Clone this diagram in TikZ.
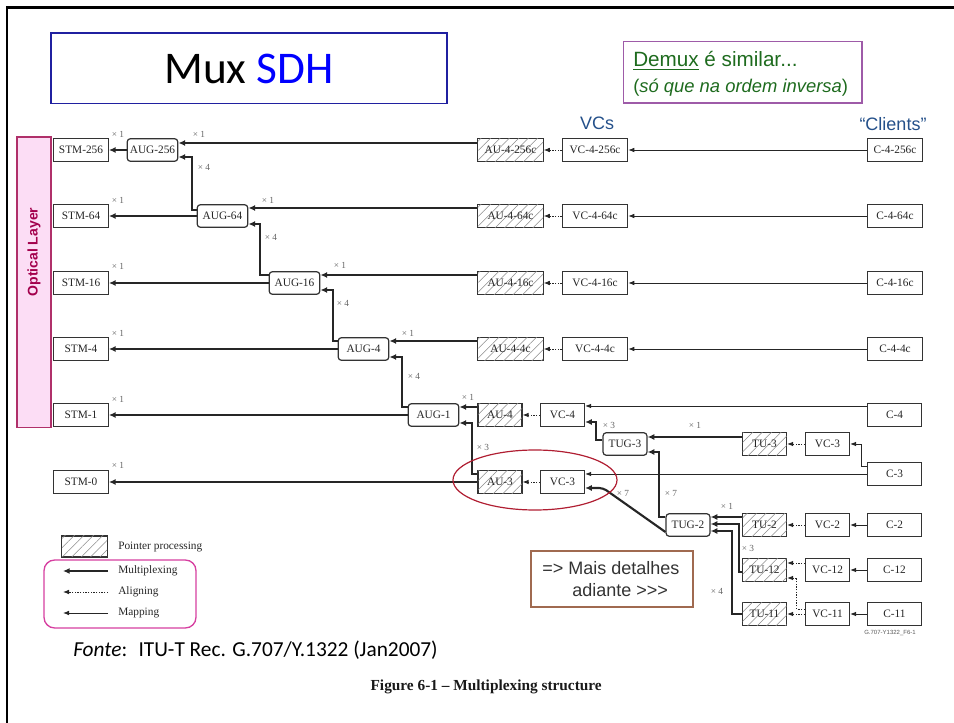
\documentclass[tikz,border=0pt]{standalone}
\usepackage{fontspec}
\setmainfont{Liberation Serif}
\newfontfamily\arialf{Liberation Sans}
\newfontfamily\calibrif{Carlito}
\usetikzlibrary{arrows.meta,patterns.meta,calc,shapes.geometric}
\definecolor{boxgray}{HTML}{333333}
\definecolor{sdhblue}{HTML}{0000FF}
\definecolor{titleframe}{HTML}{2020A0}
\definecolor{demuxgreen}{HTML}{1E6B1E}
\definecolor{demuxframe}{HTML}{9E5BA8}
\definecolor{vcblue}{HTML}{24508A}
\definecolor{optfill}{HTML}{FCDDF5}
\definecolor{optframe}{HTML}{B0306A}
\definecolor{opttext}{HTML}{A3004C}
\definecolor{ellred}{HTML}{B01E32}
\definecolor{legframe}{HTML}{D63FA0}
\definecolor{maisframe}{HTML}{A06A50}
\begin{document}
\begin{tikzpicture}[x=0.75pt,y=-0.75pt,
  dbox/.style={draw=boxgray,line width=0.9pt,fill=white,inner sep=0pt,minimum height=17pt,
    font=\fontsize{8.5}{9}\selectfont,text=black!85},
  stm/.style={dbox,minimum width=41pt},
  augbox/.style={dbox,minimum width=38pt,rounded corners=2.5pt},
  tugbox/.style={dbox,minimum width=33pt,rounded corners=2.5pt},
  wide/.style={dbox,minimum width=49pt},
  small/.style={dbox,minimum width=33pt},
  cbox/.style={dbox,minimum width=41pt},
  hatch/.style={postaction={pattern={Lines[angle=45,distance=5pt,line width=0.4pt]},pattern color=black!45}},
  mux/.style={draw=black!85,line width=1.6pt,-{Latex[length=5pt,width=4.5pt]}},
  mapl/.style={draw=black!85,line width=0.7pt,-{Latex[length=4.5pt,width=3.5pt]}},
  alig/.style={draw=black!85,line width=0.7pt,dash pattern=on 1pt off 1pt,-{Latex[length=4.5pt,width=3.5pt]}},
  mult/.style={font=\fontsize{7}{8}\selectfont,text=black!60,inner sep=0pt},
  demuxtxt/.style={anchor=base west,text=demuxgreen,inner sep=0pt}]
\useasboundingbox (0,0) rectangle (954,723);
% slide frame
\draw[line width=1.8pt] (7,723) -- (7,7.5) -- (954,7.5);
% title
\node[draw=titleframe,line width=1pt,minimum width=297pt,minimum height=53pt] (title) at (249,68.5)
  {\calibrif\fontsize{34}{36}\selectfont Mux \textcolor{sdhblue}{SDH}};
% demux note
\node[draw=demuxframe,line width=1pt,minimum width=179pt,minimum height=46pt,inner sep=0pt] (demux) at (742.5,72.5) {};
\node[demuxtxt,font=\arialf\fontsize{15.5}{18}\selectfont] (demux1) at (633,67) {\underline{Demux} é similar...};
\node[demuxtxt,font=\arialf\fontsize{13.8}{16}\selectfont] (demux2) at (633,93) {(\textit{só que na ordem inversa})};
\node[text=vcblue,font=\arialf\fontsize{13.5}{15}\selectfont,inner sep=0pt] (vcs) at (597,123) {VCs};
\node[text=vcblue,font=\arialf\fontsize{13.5}{15}\selectfont,inner sep=0pt] (clients) at (893,124) {“Clients”};
% optical layer
\node[draw=optframe,fill=optfill,line width=1pt,minimum width=25.5pt,minimum height=218pt,inner sep=0pt] (opt) at (34,282.5) {};
\node[rotate=90,text=opttext,font=\arialf\bfseries\fontsize{10.5}{12}\selectfont,inner sep=0pt] (optt) at (34,252) {Optical Layer};
% STM boxes
\node[stm] (STM256) at (81,150) {STM-256};
\node[stm] (STM64) at (81,216) {STM-64};
\node[stm] (STM16) at (81,283) {STM-16};
\node[stm] (STM4) at (81,349) {STM-4};
\node[stm] (STM1) at (81,415) {STM-1};
\node[stm] (STM0) at (81,482) {STM-0};
% AUG
\node[augbox] (AUG256) at (152.5,150) {AUG-256};
\node[augbox] (AUG64) at (222.5,216) {AUG-64};
\node[augbox] (AUG16) at (294.5,283) {AUG-16};
\node[augbox] (AUG4) at (363.5,349) {AUG-4};
\node[augbox] (AUG1) at (433.5,415) {AUG-1};
% AU-4-Xc and VC-4-Xc
\node[wide,hatch] (AU256) at (510.5,150) {AU-4-256c};
\node[wide] (VC256) at (595,150) {VC-4-256c};
\node[wide,hatch] (AU64) at (510.5,216) {AU-4-64c};
\node[wide] (VC64) at (595,216) {VC-4-64c};
\node[wide,hatch] (AU16) at (510.5,283) {AU-4-16c};
\node[wide] (VC16) at (595,283) {VC-4-16c};
\node[wide,hatch] (AU4c) at (510.5,349) {AU-4-4c};
\node[wide] (VC4c) at (595,349) {VC-4-4c};
% C boxes
\node[cbox] (C256) at (895,150) {C-4-256c};
\node[cbox] (C64) at (895,216) {C-4-64c};
\node[cbox] (C16) at (895,283) {C-4-16c};
\node[cbox] (C4c) at (895,349) {C-4-4c};
\node[cbox] (C4) at (894.5,415) {C-4};
\node[cbox] (C3) at (894.5,474) {C-3};
\node[cbox] (C2) at (894.5,525) {C-2};
\node[cbox] (C12) at (894.5,570) {C-12};
\node[cbox] (C11) at (894.5,614) {C-11};
% lower part
\node[small,hatch] (AU4) at (500,415) {AU-4};
\node[small] (VC4) at (562.5,415) {VC-4};
\node[tugbox] (TUG3) at (625,444) {TUG-3};
\node[small,hatch] (AU3) at (500,482) {AU-3};
\node[small] (VC3l) at (562.5,482) {VC-3};
\node[small,hatch] (TU3) at (764.5,444) {TU-3};
\node[small] (VC3r) at (827.5,444) {VC-3};
\node[tugbox] (TUG2) at (688,525) {TUG-2};
\node[small,hatch] (TU2) at (764.5,525) {TU-2};
\node[small] (VC2) at (827.5,525) {VC-2};
\node[small,hatch] (TU12) at (764.5,570) {TU-12};
\node[small] (VC12) at (827.5,570) {VC-12};
\node[small,hatch] (TU11) at (764.5,614) {TU-11};
\node[small] (VC11) at (827.5,614) {VC-11};
% connectors: STM
\draw[mux] (AUG256.west) -- (STM256.east);
\draw[mux] (AUG64.west) -- (STM64.east);
\draw[mux] (AUG16.west) -- (STM16.east);
\draw[mux] (AUG4.west) -- (STM4.east);
\draw[mux] (AUG1.west) -- (STM1.east);
\draw[mux] (AU3.west) -- (STM0.east);
% AU-4-Xc into AUG
\draw[mux] ([yshift=5.25pt]AU256.west) -- ([yshift=5.25pt]AUG256.east);
\draw[mux] ([yshift=6pt]AU64.west) -- ([yshift=6pt]AUG64.east);
\draw[mux] ([yshift=6pt]AU16.west) -- ([yshift=6pt]AUG16.east);
\draw[mux] ([yshift=6pt]AU4c.west) -- ([yshift=6pt]AUG4.east);
\draw[mux] ([yshift=6pt]AU4.west) -- ([yshift=6pt]AUG1.east);
% AUG chain
\draw[mux] ([yshift=4.5pt]AUG64.west) -- ++(-5,0) |- ([yshift=-5.25pt]AUG256.east);
\draw[mux] ([yshift=6pt]AUG16.west) -- ++(-9,0) |- ([yshift=-6pt]AUG64.east);
\draw[mux] ([yshift=6pt]AUG4.west) -- ++(-5,0) |- ([yshift=-5.25pt]AUG16.east);
\draw[mux] ([yshift=6pt]AUG1.west) -- ++(-6,0) |- ([yshift=-6pt]AUG4.east);
\draw[mux] ([yshift=6pt]AU3.west) -- ++(-5,0) |- ([yshift=-6pt]AUG1.east);
% VC -> AU aligning
\draw[alig] (VC256.west) -- (AU256.east);
\draw[alig] (VC64.west) -- (AU64.east);
\draw[alig] (VC16.west) -- (AU16.east);
\draw[alig] (VC4c.west) -- (AU4c.east);
\draw[alig] (VC4.west) -- (AU4.east);
\draw[alig] (VC3l.west) -- (AU3.east);
\draw[alig] (VC3r.west) -- (TU3.east);
\draw[alig] (VC2.west) -- (TU2.east);
\draw[alig] ([yshift=5.25pt]VC12.west) -- ([yshift=5.25pt]TU12.east);
\draw[alig] (VC11.west) -- (TU11.east);
\draw[alig] ([yshift=3.75pt]VC11.west) -- ++(-8,0) |- ([yshift=-6pt]TU12.east);
% C -> VC mapping
\draw[mapl] (C256.west) -- (VC256.east);
\draw[mapl] (C64.west) -- (VC64.east);
\draw[mapl] (C16.west) -- (VC16.east);
\draw[mapl] (C4c.west) -- (VC4c.east);
\draw[mapl] ([yshift=6.75pt]C4.west) -- ([yshift=6.75pt]VC4.east);
\draw[mapl] (C3.west) -- ([yshift=6pt]VC3l.east);
\draw[mapl] ([yshift=6pt]C3.west) -- ++(-5,0) |- (VC3r.east);
\draw[mapl] (C2.west) -- (VC2.east);
\draw[mapl] (C12.west) -- (VC12.east);
\draw[mapl] (C11.west) -- (VC11.east);
% TUG-3 / TUG-2 multiplexing
\draw[mux] ([yshift=3pt]TUG3.west) -- ++(-6,0) |- ([yshift=-5.25pt]VC4.east);
\draw[mux] ([yshift=5.25pt]TU3.west) -- ([yshift=5.25pt]TUG3.east);
\draw[mux] ([yshift=6pt]TUG2.west) -- ++(-6,0) |- ([yshift=-6pt]TUG3.east);
\coordinate (bendA) at ($([yshift=-4.5pt]VC3l.east)+(18,0)$);
\draw[mux,rounded corners=3pt] ([yshift=-5.25pt]TUG2.west) -- (bendA) -- ([yshift=-4.5pt]VC3l.east);
\draw[mux] ([yshift=6pt]TU2.west) -- ([yshift=6pt]TUG2.east);
\draw[mux] ([yshift=-1.5pt]TU12.west) -- ++(-3,0) |- ([yshift=0.75pt]TUG2.east);
\draw[mux] (TU11.west) -- ++(-10,0) |- ([yshift=-4.5pt]TUG2.east);
% multiplicity labels
\node[mult] (m1) at (118,134) {× 1};
\node[mult] (m2) at (199,134) {× 1};
\node[mult] (m3) at (204,167) {× 4};
\node[mult] (m4) at (118,200) {× 1};
\node[mult] (m5) at (268,200) {× 1};
\node[mult] (m6) at (271,237) {× 4};
\node[mult] (m7) at (118,266) {× 1};
\node[mult] (m8) at (340,265) {× 1};
\node[mult] (m9) at (343,303) {× 4};
\node[mult] (m10) at (118,333) {× 1};
\node[mult] (m11) at (408,333) {× 1};
\node[mult] (m12) at (414,376) {× 4};
\node[mult] (m13) at (118,399) {× 1};
\node[mult] (m14) at (468,397) {× 1};
\node[mult] (m15) at (483,447) {× 3};
\node[mult] (m16) at (118,465) {× 1};
\node[mult] (m17) at (609,425) {× 3};
\node[mult] (m18) at (695,425) {× 1};
\node[mult] (m19) at (671,493) {× 7};
\node[mult] (m20) at (623,493) {× 7};
\node[mult] (m21) at (727,506) {× 1};
\node[mult] (m22) at (748,548) {× 3};
\node[mult] (m23) at (717,591) {× 4};
\node[font=\arialf\fontsize{4.5}{5}\selectfont,text=black!65,inner sep=0pt] (gref) at (890,633) {G.707-Y1322\_F6-1};
% red ellipse
\node[draw=ellred,line width=0.9pt,ellipse,minimum width=123pt,minimum height=45pt,inner sep=0pt] (ell) at (535,480) {};
% mais detalhes
\node[draw=maisframe,line width=1pt,minimum width=121.5pt,minimum height=42pt,inner sep=0pt] (mais) at (612,579) {};
\node[font=\arialf\fontsize{13.5}{16}\selectfont,text=black!80,inner sep=0pt,anchor=base west] (mais1) at (542,575) {=> Mais detalhes};
\node[font=\arialf\fontsize{13.5}{16}\selectfont,text=black!80,inner sep=0pt,anchor=base west] (mais2) at (572,597) {adiante >>>};
% legend
\node[draw=boxgray,line width=0.9pt,minimum width=34pt,minimum height=15.75pt,inner sep=0pt,hatch] (lhatch) at (84.5,546.5) {};
\node[anchor=west,font=\fontsize{8.5}{9}\selectfont,text=black!85,inner sep=0pt] (lpp) at (118,547) {Pointer processing};
\node[draw=legframe,line width=1pt,rounded corners=8pt,minimum width=114pt,minimum height=51pt,inner sep=0pt] (lframe) at (120,594) {};
\coordinate (lm1) at (108,571); \coordinate (lm2) at (63,571);
\coordinate (la1) at (108,592); \coordinate (la2) at (63,592);
\coordinate (lp1) at (108,613); \coordinate (lp2) at (63,613);
\draw[mux] (lm1) -- (lm2);
\draw[alig] (la1) -- (la2);
\draw[mapl] (lp1) -- (lp2);
\node[anchor=west,font=\fontsize{8.5}{9}\selectfont,text=black!85,inner sep=0pt] (lmt) at (118,571) {Multiplexing};
\node[anchor=west,font=\fontsize{8.5}{9}\selectfont,text=black!85,inner sep=0pt] (lat) at (118,592) {Aligning};
\node[anchor=west,font=\fontsize{8.5}{9}\selectfont,text=black!85,inner sep=0pt] (lpt) at (118,613) {Mapping};
% source and caption
\node[anchor=base west,font=\calibrif\fontsize{16}{18}\selectfont,inner sep=0pt] (fonte) at (73,657) {\textit{Fonte}:~ ITU-T Rec. G.707/Y.1322 (Jan2007)};
\node[anchor=base east,font=\bfseries\fontsize{11.5}{12}\selectfont,text=black!90,inner sep=0pt] (caption) at (602,690) {Figure 6-1 – Multiplexing structure};
\end{tikzpicture}
\end{document}
